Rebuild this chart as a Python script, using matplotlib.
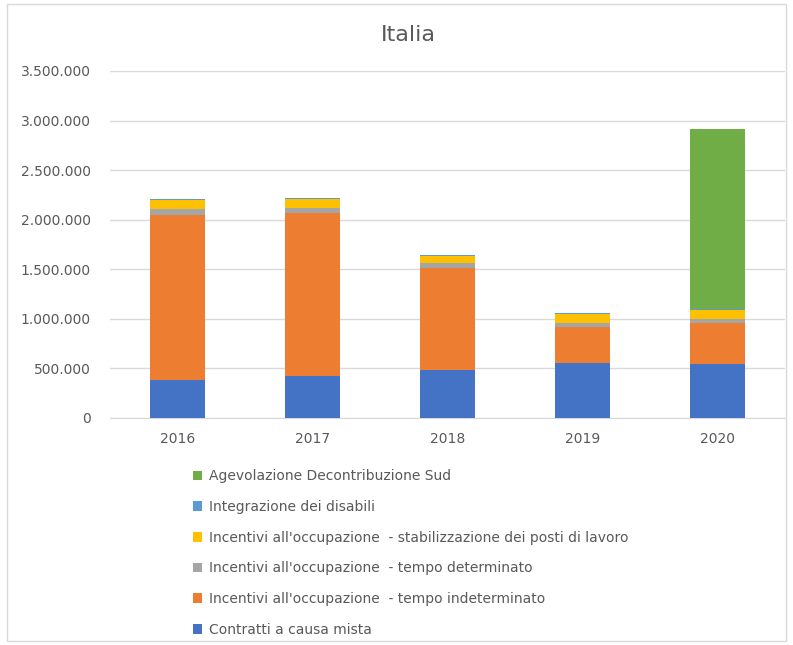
import matplotlib
matplotlib.use("Agg")
import matplotlib.pyplot as plt
from matplotlib.patches import Rectangle, Patch
from matplotlib.ticker import FuncFormatter
import numpy as np

# ── Data ──────────────────────────────────────────────────────────────────────

years = ["2016", "2017", "2018", "2019", "2020"]

contratti_causa_mista = [383000, 423000, 484000, 554000, 544000]
tempo_indeterminato   = [1664000, 1640000, 1025000, 360000, 417000]
tempo_determinato     = [58000, 57000, 51000, 41000, 37000]
stabilizzazione       = [92000, 88000, 73000, 93000, 91000]
integrazione_disabili = [12000, 12000, 10000, 10000, 8000]
decontribuzione_sud   = [0, 0, 0, 0, 1813000]

series = [
    ("Contratti a causa mista", contratti_causa_mista, "#4472C4"),
    ("Incentivi all'occupazione  - tempo indeterminato", tempo_indeterminato, "#ED7D31"),
    ("Incentivi all'occupazione  - tempo determinato", tempo_determinato, "#A5A5A5"),
    ("Incentivi all'occupazione  - stabilizzazione dei posti di lavoro", stabilizzazione, "#FFC000"),
    ("Integrazione dei disabili", integrazione_disabili, "#5B9BD5"),
    ("Agevolazione Decontribuzione Sud", decontribuzione_sud, "#70AD47"),
]

TEXT = "#595959"
GRID = "#D9D9D9"

# ── Figure ────────────────────────────────────────────────────────────────────

fig = plt.figure(figsize=(7.93, 6.45), dpi=100)
fig.patch.set_facecolor("white")

# thin chart-area frame
fig.patches.append(Rectangle((0.009, 0.006), 0.982, 0.988, transform=fig.transFigure,
                             fill=False, edgecolor="#D9D9D9", linewidth=1.0))

ax = fig.add_axes([0.139, 0.352, 0.851, 0.538])

x = np.arange(len(years))
bottom = np.zeros(len(years))
handles = []
for label, vals, color in series:
    vals = np.array(vals, dtype=float)
    ax.bar(x, vals, width=0.41, bottom=bottom, color=color, zorder=3)
    bottom += vals
    handles.append(Patch(facecolor=color, label=label))

ax.set_xlim(-0.5, 4.5)
ax.set_ylim(0, 3500000)
ax.set_yticks(np.arange(0, 3500001, 500000))
ax.yaxis.set_major_formatter(FuncFormatter(lambda v, p: f"{int(v):,}".replace(",", ".")))
ax.set_xticks(x)
ax.set_xticklabels(years)

ax.yaxis.grid(True, color=GRID, linewidth=1.0, zorder=0)
ax.set_axisbelow(True)
for name in ["top", "right", "left"]:
    ax.spines[name].set_visible(False)
ax.spines["bottom"].set_color(GRID)
ax.tick_params(axis="both", length=0, colors=TEXT, labelsize=10)
ax.tick_params(axis="y", pad=14)
ax.tick_params(axis="x", pad=10)

fig.text(0.515, 0.945, "Italia", ha="center", va="center", fontsize=16, color=TEXT)

# legend stacked vertically, last series on top
fig.legend(handles=handles[::-1], loc="upper left", bbox_to_anchor=(0.236, 0.281),
           frameon=False, fontsize=10, labelcolor=TEXT, handlelength=0.7,
           handleheight=0.7, handletextpad=0.45, labelspacing=1.2,
           borderaxespad=0)

fig.savefig("out.png", dpi=100, facecolor="white")
